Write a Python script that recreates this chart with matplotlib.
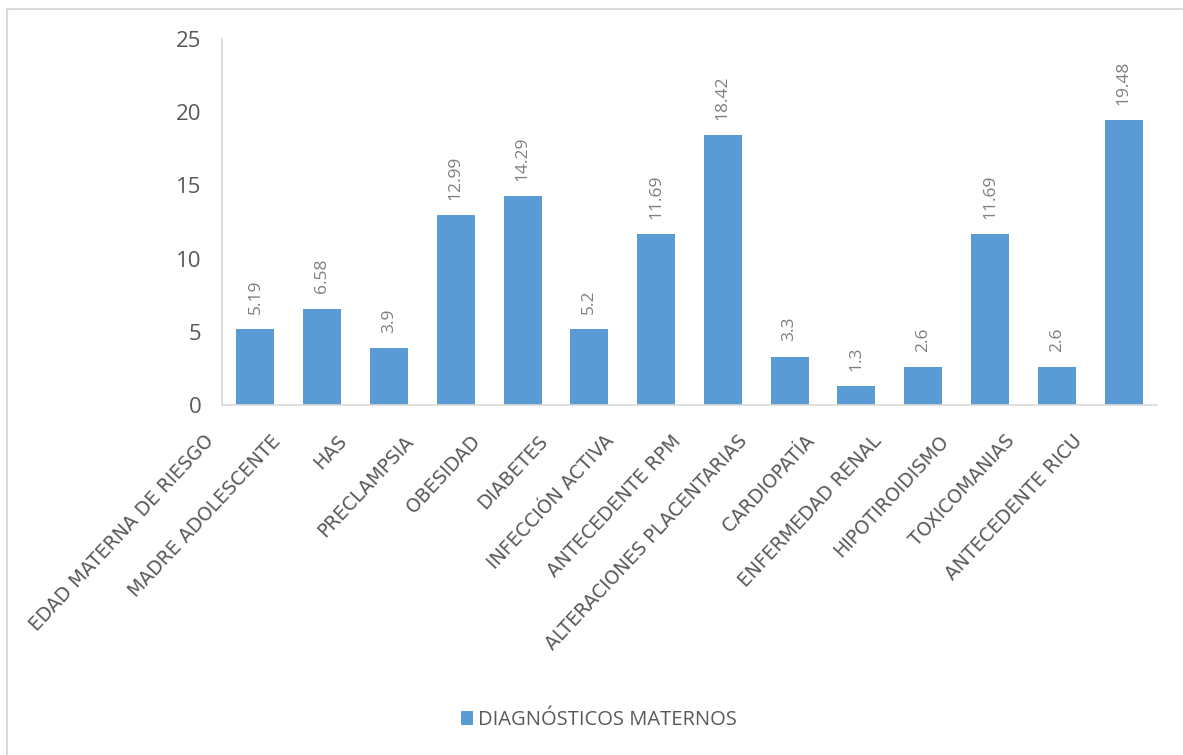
import matplotlib.pyplot as plt
from matplotlib.patches import Rectangle
from matplotlib.transforms import ScaledTranslation

plt.rcParams['font.family'] = ['Open Sans', 'DejaVu Sans']

# Data
categories = ['EDAD MATERNA DE RIESGO', 'MADRE ADOLESCENTE', 'HAS', 'PRECLAMPSIA',
              'OBESIDAD', 'DIABETES', 'INFECCIÓN ACTIVA', 'ANTECEDENTE RPM',
              'ALTERACIONES PLACENTARIAS', 'CARDIOPATÍA', 'ENFERMEDAD RENAL',
              'HIPOTIROIDISMO', 'TOXICOMANIAS', 'ANTECEDENTE RICU']
values = [5.19, 6.58, 3.9, 12.99, 14.29, 5.2, 11.69, 18.42, 3.3, 1.3, 2.6, 11.69, 2.6, 19.48]
value_labels = ['5.19', '6.58', '3.9', '12.99', '14.29', '5.2', '11.69', '18.42',
                '3.3', '1.3', '2.6', '11.69', '2.6', '19.48']
series_name = 'DIAGNÓSTICOS MATERNOS'
yticks = [0, 5, 10, 15, 20, 25]

bar_color = '#5B9BD5'
text_color = '#595959'
grid_color = '#D9D9D9'

fig = plt.figure(figsize=(11.83, 7.55), dpi=100)
ax = fig.add_axes([0.1877, 0.4636, 0.7903, 0.4847])

x = range(len(categories))
bars = ax.bar(x, values, width=0.57, color=bar_color, label=series_name)

for xi, v, lab in zip(x, values, value_labels):
    ax.annotate(lab, (xi, v), xytext=(0, 11), textcoords='offset points',
                rotation=90, ha='center', va='bottom', fontsize=12.5, color='#7F7F7F')

ax.set_xlim(-0.5, len(categories) - 0.5)
ax.set_ylim(0, 25)
ax.set_yticks(yticks)
ax.set_yticklabels([str(t) for t in yticks], fontsize=16, color=text_color)
ax.set_xticks(list(x))
ax.set_xticklabels(categories, rotation=47, ha='right', va='center', rotation_mode='anchor',
                   fontsize=13.5, color=text_color, family='DejaVu Sans')
ax.tick_params(axis='both', length=0)
ax.tick_params(axis='y', pad=15)
ax.tick_params(axis='x', pad=0)

# shift category labels like the original (down-left of each tick)
shift = ScaledTranslation(-0.45, -0.33, fig.dpi_scale_trans)
for lbl in ax.get_xticklabels():
    lbl.set_transform(lbl.get_transform() + shift)

for s in ['top', 'right']:
    ax.spines[s].set_visible(False)
for s in ['left', 'bottom']:
    ax.spines[s].set_color(grid_color)
    ax.spines[s].set_linewidth(1.2)

fig.legend(handles=[bars], labels=[series_name], loc='center', bbox_to_anchor=(0.506, 0.046),
           frameon=False, fontsize=14.5, labelcolor=text_color,
           handlelength=0.6, handleheight=0.7, handletextpad=0.25)

# chart area border (cropped on right and bottom)
fig.patches.append(Rectangle((7 / 1183, -0.1), 1.2, 0.1 + (755 - 9) / 755,
                             transform=fig.transFigure, fill=False,
                             edgecolor=grid_color, linewidth=1.5))

fig.savefig('out.png', dpi=100)
